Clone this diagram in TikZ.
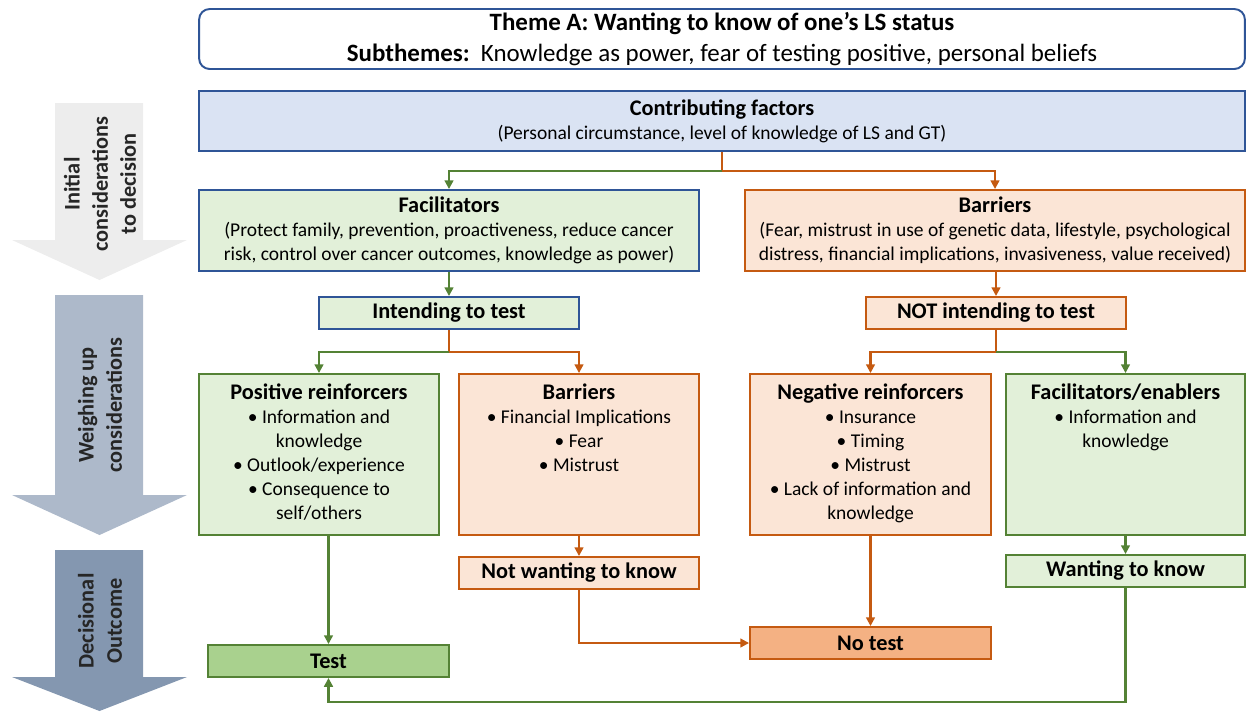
\documentclass[tikz,border=0pt]{standalone}
\usepackage{fontspec}
\setmainfont{Carlito}
\usepackage{tikz}
\usetikzlibrary{positioning}
\usetikzlibrary{arrows.meta}
\usetikzlibrary{calc}
\definecolor[named]{darkblue}{RGB}{47,85,151}
\definecolor[named]{leafgreen}{RGB}{84,130,53}
\definecolor[named]{rustorange}{RGB}{197,90,17}

\begin{document}
\begin{tikzpicture}[x=0.02cm,y=-0.02cm]
    \definecolor{bluefill}{RGB}{218,227,243};
    \definecolor{greenfill}{RGB}{226,240,217};
    \definecolor{orangefill}{RGB}{251,229,214};
    \definecolor{testfill}{RGB}{169,209,142};
    \definecolor{notestfill}{RGB}{244,177,131};
    \definecolor{arrowgrey}{RGB}{237,237,237};
    \definecolor{arrowblue}{RGB}{173,185,202};
    \definecolor{arrowslate}{RGB}{132,151,176};
   \useasboundingbox (0,0) rectangle (1247,711);
   \def\hd#1{{\fontsize{12.7}{15}\selectfont\bfseries #1}}
   \tikzstyle{box}=[draw,line width=1.1pt,inner sep=0pt,align=center,font=\fontsize{11.1}{13.6}\selectfont];
   \tikzstyle{bbox}=[box,draw=darkblue,fill=greenfill];
   \tikzstyle{gbox}=[box,draw=leafgreen,fill=greenfill];
   \tikzstyle{obox}=[box,draw=rustorange,fill=orangefill];
   \tikzstyle{gline}=[draw=leafgreen,line width=1.2pt,-{Triangle[length=5pt,width=5pt]}];
   \tikzstyle{oline}=[draw=rustorange,line width=1.2pt,-{Triangle[length=5pt,width=5pt]}];
   \tikzstyle{sidetext}=[rotate=90,align=center,text=black!85,font=\fontsize{12.7}{16}\selectfont\bfseries];
   % stage arrows on the left
   \foreach \ya/\yb/\yc/\col in {103/240/280/arrowgrey,295/495/535/arrowblue,550/677/711/arrowslate}
      \fill[\col] (55,\ya) -- (143,\ya) -- (143,\yb) -- (187,\yb) -- (99.5,\yc) -- (12,\yb) -- (55,\yb) -- cycle;
   \node[sidetext] (stage1) at (100,184) {Initial\\considerations\\to decision};
   \node[sidetext] (stage2) at (100,405) {Weighing up\\considerations};
   \node[sidetext] (stage3) at (100,621) {Decisional\\Outcome};
   % theme and top level
   \node[box,draw=darkblue,fill=white,rounded corners=6pt,minimum width=20.92cm,minimum height=1.2cm,font=\fontsize{14.2}{17.6}\selectfont] (theme) at (722,39)
      {\textbf{Theme A: Wanting to know of one's LS status}\\\textbf{Subthemes:}\ \ Knowledge as power, fear of testing positive, personal beliefs};
   \node[box,draw=darkblue,fill=bluefill,minimum width=20.92cm,minimum height=1.2cm] (contrib) at (722,121)
      {\hd{Contributing factors}\\(Personal circumstance, level of knowledge of LS and GT)};
   \node[bbox,minimum width=10cm,minimum height=1.62cm] (facil) at (449,230.5)
      {\hd{Facilitators}\\(Protect family, prevention, proactiveness, reduce cancer\\risk, control over cancer outcomes, knowledge as power)};
   \node[obox,minimum width=10cm,minimum height=1.62cm] (barr) at (995,230.5)
      {\hd{Barriers}\\(Fear, mistrust in use of genetic data, lifestyle, psychological\\distress, financial implications, invasiveness, value received)};
   \node[bbox,minimum width=5.2cm,minimum height=0.64cm] (intend) at (449,313) {\hd{Intending to test}};
   \node[obox,minimum width=5.2cm,minimum height=0.64cm] (notint) at (996,313) {\hd{NOT intending to test}};
   % weighing up
   \node[gbox,minimum width=4.8cm,minimum height=3.22cm] (posr) at (319,454.5)
      {\parbox[c][2.82cm][t]{4.6cm}{\centering\hd{Positive reinforcers}\\• Information and\\knowledge\\• Outlook/experience\\• Consequence to\\self/others}};
   \node[obox,minimum width=4.8cm,minimum height=3.22cm] (barr2) at (579,454.5)
      {\parbox[c][2.82cm][t]{4.6cm}{\centering\hd{Barriers}\\• Financial Implications\\• Fear\\• Mistrust}};
   \node[obox,minimum width=4.82cm,minimum height=3.22cm] (negr) at (870.5,454.5)
      {\parbox[c][2.82cm][t]{4.6cm}{\centering\hd{Negative reinforcers}\\• Insurance\\• Timing\\• Mistrust\\• Lack of information and\\knowledge}};
   \node[gbox,minimum width=4.78cm,minimum height=3.22cm] (enab) at (1125.5,454.5)
      {\parbox[c][2.82cm][t]{4.6cm}{\centering\hd{Facilitators/enablers}\\• Information and\\knowledge}};
   % outcomes
   \node[obox,minimum width=4.8cm,minimum height=0.64cm] (notwant) at (579,573) {\hd{Not wanting to know}};
   \node[gbox,minimum width=4.78cm,minimum height=0.64cm] (want) at (1125.5,571) {\hd{Wanting to know}};
   \node[gbox,fill=testfill,minimum width=4.82cm,minimum height=0.64cm] (test) at (328.5,661) {\hd{Test}};
   \node[obox,fill=notestfill,minimum width=4.82cm,minimum height=0.64cm] (notest) at (870.5,643) {\hd{No test}};
   % connectors
   \coordinate (c1) at (722,171);
   \coordinate (c2) at (449,352);
   \coordinate (c3) at (996,352);
   \coordinate (c4) at (1125.5,702);
   \draw[oline] (contrib.south) -- (c1) -| (barr.north);
   \draw[gline] (c1) -| (facil.north);
   \draw[gline] (facil.south) -- (intend.north);
   \draw[oline] (barr.south -| notint.north) -- (notint.north);
   \draw[oline] (intend.south) -- (c2) -| (barr2.north);
   \draw[gline] (c2) -| (posr.north);
   \draw[oline] (notint.south) -- (c3) -| (negr.north);
   \draw[gline] (c3) -| (enab.north);
   \draw[gline] (posr.south -| test.north) -- (test.north);
   \draw[oline] (barr2.south) -- (notwant.north);
   \draw[gline] (enab.south) -- (want.north);
   \draw[oline] (negr.south) -- (notest.north);
   \draw[oline] (notwant.south) |- (notest.west);
   \draw[gline] (want.south) -- (c4) -| (test.south);
\end{tikzpicture}
\end{document}
